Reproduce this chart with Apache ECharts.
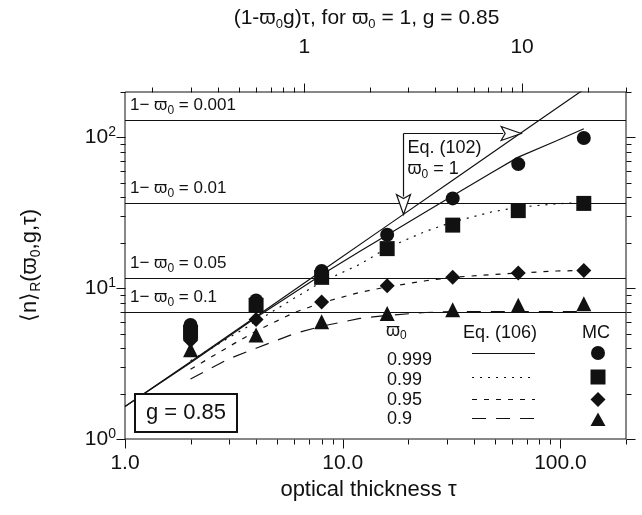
<!DOCTYPE html>
<html>
<head>
<meta charset="utf-8">
<script src="https://cdn.jsdelivr.net/npm/echarts@6/dist/echarts.min.js"></script>
<style>
html, body { margin: 0; padding: 0; background: #fff; }
#chart { width: 642px; height: 515px; }
</style>
</head>
<body>
<div id="chart"></div>
<script>
var FONT = '"Liberation Sans", Arial, Helvetica, sans-serif';
var INK = '#111';

// Monte Carlo points
var tauMC = [2, 4, 8, 16, 32, 64, 128];
var mc999 = [5.7, 8.3, 13.0, 22.6, 39.4, 66.5, 99];
var mc99 = [5.1, 7.7, 11.8, 18.3, 26.2, 32.7, 36.5];
var mc95 = [4.5, 6.2, 8.1, 10.4, 11.8, 12.6, 13.1];
var mc90 = [3.9, 4.9, 6.0, 6.8, 7.2, 7.7, 7.9];

// Eq. (106) curves
var tau999 = [1, 2, 4, 8, 12, 16, 24, 32, 48, 64, 96, 128];
var eq999 = [1.64, 3.2, 6.4, 12.3, 17.6, 22.5, 32, 41, 58, 74, 95, 114];
var tauEq = [2, 3, 4, 6, 8, 12, 16, 24, 32, 48, 64, 96, 128];
var eq99 = [3.3, 4.7, 6.0, 8.6, 11.0, 14.4, 18.5, 23.8, 27.5, 32, 34.4, 36.3, 37];
var eq95 = [2.9, 4.1, 5.2, 6.9, 8.0, 9.4, 10.2, 11.2, 11.8, 12.3, 12.6, 13.0, 13.1];
var eq90 = [2.5, 3.4, 4.0, 5.0, 5.6, 6.3, 6.6, 6.9, 7.0, 7.0, 7.0, 7.0, 7.0];

// Eq. (102), omega0 = 1
var tau102 = [1, 2, 4, 8, 16, 32, 64, 128];
var eq102 = [1.64, 3.25, 6.5, 13, 26, 52, 104, 208];

// asymptotic levels 1 - omega0
var limitLabels = ['0.001', '0.01', '0.05', '0.1'];
var limitValues = [129, 36.5, 11.6, 6.9];

var omegaLegend = ['0.999', '0.99', '0.95', '0.9'];
var xTickLabels = ['1.0', '10.0', '100.0'];
var topTickLabels = ['1', '10'];
var yTickLabels = ['10^0', '10^1', '10^2'];

var g = 0.85, omega0 = 1;
var topFactor = 1 - omega0 * g;
var arrowRightAt = [66, 107];
var arrowDownAt = [19, 30.8];

function pairs(xs, ys) {
    return xs.map(function (x, i) { return [x, ys[i]]; });
}
function isPow10(v) {
    var l = Math.log10(v);
    return Math.abs(l - Math.round(l)) < 1e-6;
}

function curve(name, xs, ys, dash) {
    return {
        name: name, type: 'line', data: pairs(xs, ys),
        symbol: 'none', showSymbol: false, silent: true, z: 3,
        lineStyle: { color: INK, width: 1.2, type: dash }
    };
}
function mc(name, ys, symbol, size) {
    return {
        name: name, type: 'scatter', data: pairs(tauMC, ys),
        symbol: symbol, symbolSize: size, silent: true, z: 4,
        itemStyle: { color: INK, opacity: 1 }
    };
}

var chart = echarts.init(document.getElementById('chart'), null, { renderer: 'canvas' });

var eq102Series = curve('Eq. (102)', tau102, eq102, 'solid');
eq102Series.markLine = {
    silent: true, symbol: 'none', animation: false,
    lineStyle: { color: INK, width: 1, type: 'solid' },
    label: {
        position: 'insideStartTop', distance: [5, 4],
        fontFamily: FONT, fontSize: 17, color: INK, lineHeight: 22,
        formatter: function (p) { return '1\u2212 {w|\u03D6}{s|0} = ' + p.name; },
        rich: {
            s: { fontSize: 12, lineHeight: 12, verticalAlign: 'bottom', fontFamily: FONT, color: INK },
            w: { fontSize: 17, lineHeight: 22, fontFamily: FONT, color: INK }
        }
    },
    data: limitValues.map(function (v, i) { return { yAxis: v, name: limitLabels[i] }; })
};

var option = {
    animation: false,
    backgroundColor: '#fff',
    grid: { left: 125, right: 16, top: 85, bottom: 76, show: true, borderColor: INK, borderWidth: 1, backgroundColor: 'transparent' },
    xAxis: [{
        type: 'log', min: 1, max: 200, position: 'bottom',
        axisLine: { show: false }, axisTick: { show: false }, splitLine: { show: false },
        axisLabel: {
            margin: 14, fontFamily: FONT, fontSize: 21, color: INK, hideOverlap: false,
            formatter: function (v) {
                if (!isPow10(v)) return '';
                return xTickLabels[Math.round(Math.log10(v))] || '';
            }
        },
        name: 'optical thickness \u03C4', nameLocation: 'middle', nameGap: 40,
        nameTextStyle: { fontFamily: FONT, fontSize: 22, color: INK, padding: [0, 14, 0, 0] }
    }, {
        type: 'log', min: topFactor * 1, max: topFactor * 200, position: 'top',
        axisLine: { show: false }, axisTick: { show: false }, splitLine: { show: false },
        axisLabel: {
            margin: 34, fontFamily: FONT, fontSize: 21, color: INK, hideOverlap: false,
            formatter: function (v) {
                if (!isPow10(v)) return '';
                return topTickLabels[Math.round(Math.log10(v))] || '';
            }
        },
        name: '(1-{w|\u03D6}{s|0}g)\u03C4, for {w|\u03D6}{s|0} = 1, g = 0.85',
        nameLocation: 'middle', nameGap: 61,
        nameTextStyle: {
            fontFamily: FONT, fontSize: 21, color: INK, lineHeight: 26, padding: [0, 18, 0, 0],
            rich: {
                s: { fontSize: 13, lineHeight: 13, verticalAlign: 'bottom', fontFamily: FONT, color: INK },
                w: { fontSize: 21, lineHeight: 26, fontFamily: FONT, color: INK }
            }
        }
    }],
    yAxis: [{
        type: 'log', min: 1, max: 200, position: 'left',
        axisLine: { show: false }, axisTick: { show: false }, splitLine: { show: false },
        axisLabel: {
            margin: 9, fontFamily: FONT, fontSize: 21, color: INK, hideOverlap: false,
            formatter: function (v) {
                if (!isPow10(v)) return '';
                var t = yTickLabels[Math.round(Math.log10(v))];
                if (!t) return '';
                var parts = t.split('^');
                return '{b|' + parts[0] + '}{p|' + parts[1] + '}';
            },
            rich: {
                b: { fontSize: 21, lineHeight: 24, fontFamily: FONT, color: INK },
                p: { fontSize: 14, lineHeight: 14, verticalAlign: 'top', fontFamily: FONT, color: INK }
            }
        },
        name: '\u27E8n\u27E9{s|R}({w|\u03D6}{s|0},g,\u03C4)', nameLocation: 'middle', nameGap: 82, nameRotate: 90,
        nameTextStyle: {
            fontFamily: FONT, fontSize: 22, color: INK, lineHeight: 26,
            rich: {
                s: { fontSize: 14, lineHeight: 14, verticalAlign: 'bottom', fontFamily: FONT, color: INK },
                w: { fontSize: 22, lineHeight: 26, fontFamily: FONT, color: INK }
            }
        }
    }],
    series: [
        eq102Series,
        curve('0.999', tau999, eq999, 'solid'),
        curve('0.99', tauEq, eq99, [2, 6]),
        curve('0.95', tauEq, eq95, [5, 7]),
        curve('0.9', tauEq, eq90, [14, 10]),
        mc('MC 0.999', mc999, 'circle', 14),
        mc('MC 0.99', mc99, 'rect', 15),
        mc('MC 0.95', mc95, 'diamond', 15),
        mc('MC 0.9', mc90, 'triangle', 15)
    ]
};
chart.setOption(option);

// ticks, legend, annotations
function px(v) { return chart.convertToPixel({ xAxisIndex: 0 }, v); }
function py(v) { return chart.convertToPixel({ yAxisIndex: 0 }, v); }

function decadeSteps(lo, hi) {
    var out = [];
    for (var e = Math.floor(Math.log10(lo)); Math.pow(10, e) <= hi; e++) {
        for (var m = 1; m < 10; m++) {
            var v = m * Math.pow(10, e);
            if (v >= lo - 1e-9 && v <= hi + 1e-9) out.push({ v: v, major: m === 1 });
        }
    }
    return out;
}

var els = [];
function seg(x1, y1, x2, y2, w, dash) {
    els.push({
        type: 'line', silent: true, z: 10,
        shape: { x1: x1, y1: y1, x2: x2, y2: y2 },
        style: { stroke: INK, lineWidth: w || 1, lineDash: dash || null }
    });
}
function txt(x, y, text, size, align, rich) {
    els.push({
        type: 'text', silent: true, z: 10,
        style: {
            x: x, y: y, text: text, fill: INK, font: size + 'px ' + FONT,
            align: align || 'left', verticalAlign: 'middle', rich: rich
        }
    });
}

var L = Math.round(px(1)) + 0.5, R = Math.round(px(200)) + 0.5;
var T = Math.round(py(200)) + 0.5, B = Math.round(py(1)) + 0.5;

decadeSteps(1, 200).forEach(function (t) {
    var x = Math.round(px(t.v)) + 0.5, len = t.major ? 9 : 5;
    seg(x, B, x, B + len);
    var y = Math.round(py(t.v)) + 0.5;
    seg(L - len, y, L, y);
    seg(R, y, R + len, y);
});
decadeSteps(topFactor, topFactor * 200).forEach(function (t) {
    var x = Math.round(px(t.v / topFactor)) + 0.5, len = t.major ? 9 : 5;
    seg(x, T - len, x, T);
});

// Eq. (102) bracket with arrows
var tipR = [px(arrowRightAt[0]), py(arrowRightAt[1])];
var tipD = [px(arrowDownAt[0]), py(arrowDownAt[1])];
var cx = Math.round(tipD[0]) + 0.5, cy = Math.round(tipR[1]) + 0.5;
seg(cx, cy, tipR[0] - 18, cy, 1.2);
seg(cx, cy, cx, tipD[1] - 18, 1.2);
els.push({
    type: 'polygon', silent: true, z: 11,
    shape: { points: [[tipR[0] - 20, cy - 7], [tipR[0], cy], [tipR[0] - 20, cy + 7], [tipR[0] - 16, cy]] },
    style: { fill: '#fff', stroke: INK, lineWidth: 1.2 }
});
els.push({
    type: 'polygon', silent: true, z: 11,
    shape: { points: [[cx - 7, tipD[1] - 20], [cx, tipD[1]], [cx + 7, tipD[1] - 20], [cx, tipD[1] - 16]] },
    style: { fill: '#fff', stroke: INK, lineWidth: 1.2 }
});
txt(cx + 4, cy + 15, 'Eq. (102)', 18);
txt(cx + 4, cy + 36, '{w|\u03D6}{s|0} = 1', 18, 'left', {
    w: { fontSize: 18, lineHeight: 22, fontFamily: FONT, color: INK },
    s: { fontSize: 12, lineHeight: 12, verticalAlign: 'bottom', fontFamily: FONT, color: INK }
});

// g box
els.push({
    type: 'rect', silent: true, z: 10,
    shape: { x: 135, y: 394, width: 102, height: 38 },
    style: { fill: '#fff', stroke: INK, lineWidth: 2 }
});
txt(186, 413, 'g = 0.85', 22, 'center');

// legend table
var legRich = {
    w: { fontSize: 18, lineHeight: 22, fontFamily: FONT, color: INK },
    s: { fontSize: 12, lineHeight: 12, verticalAlign: 'bottom', fontFamily: FONT, color: INK }
};
txt(386, 331, '{w|\u03D6}{s|0}', 18, 'left', legRich);
txt(463, 333, 'Eq. (106)', 18);
txt(582, 333, 'MC', 18);
var textRows = [360, 380, 400, 419];
var lineRows = [353, 377, 399, 418];
var markRows = [353, 377, 399.5, 420];
var dashes = [null, [2, 6], [5, 7], [14, 10]];
omegaLegend.forEach(function (lab, i) {
    txt(387, textRows[i], lab, 18);
    seg(472, lineRows[i] + 0.5, 535, lineRows[i] + 0.5, 1.2, dashes[i]);
});
var mx = 598;
els.push({ type: 'circle', silent: true, z: 10, shape: { cx: mx, cy: markRows[0], r: 7 }, style: { fill: INK } });
els.push({ type: 'rect', silent: true, z: 10, shape: { x: mx - 7.5, y: markRows[1] - 7.5, width: 15, height: 15 }, style: { fill: INK } });
els.push({ type: 'polygon', silent: true, z: 10, shape: { points: [[mx, markRows[2] - 7.5], [mx + 7.5, markRows[2]], [mx, markRows[2] + 7.5], [mx - 7.5, markRows[2]]] }, style: { fill: INK } });
els.push({ type: 'polygon', silent: true, z: 10, shape: { points: [[mx, markRows[3] - 7.5], [mx + 7.5, markRows[3] + 6], [mx - 7.5, markRows[3] + 6]] }, style: { fill: INK } });

chart.setOption({ graphic: els });
</script>
</body>
</html>
